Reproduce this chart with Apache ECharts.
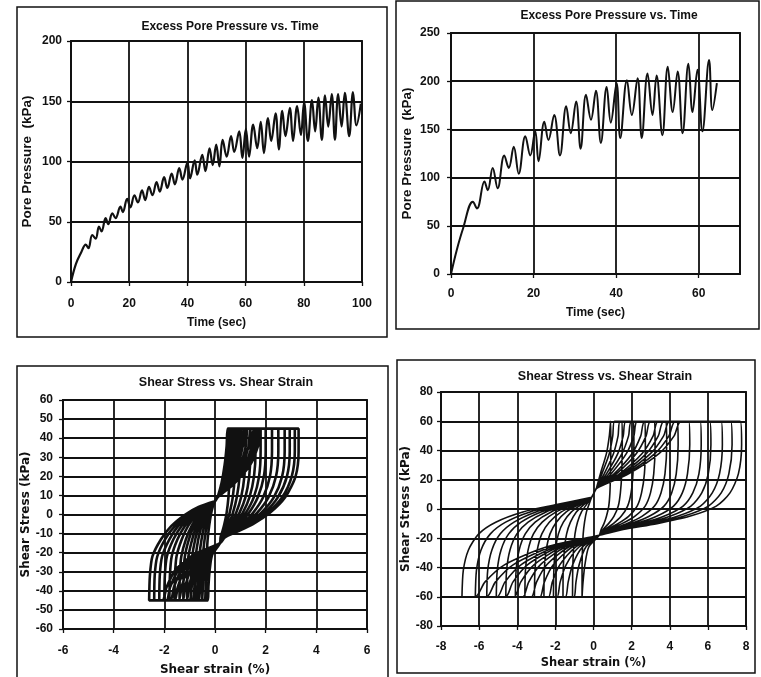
<!DOCTYPE html>
<html>
<head>
<meta charset="utf-8">
<script src="https://cdn.jsdelivr.net/npm/echarts@6/dist/echarts.min.js"></script>
<style>
  html, body { margin: 0; padding: 0; background: #fff; }
  #box { width: 761px; height: 677px; }
</style>
</head>
<body>
<div id="box"></div>
<script>
// top left: excess pore pressure vs time (100 s test)
const tlTime = [0, 1.7, 3.4, 5.1, 6.0, 7.3, 8.5, 9.6, 10.5, 11.9,
  12.8, 14.2, 15.3, 17.0, 17.8, 19.3, 20.4, 21.8, 23.0, 24.4,
  25.5, 26.8, 28.0, 29.4, 30.5, 32.0, 33.1, 34.6, 35.7, 37.2,
  38.3, 40.0, 40.9, 42.5, 43.4, 45.1, 46.2, 47.6, 48.7, 49.9,
  51.0, 52.1, 53.5, 55.0, 56.1, 57.8, 58.9, 60.1, 61.2, 62.6,
  64.0, 65.2, 66.3, 67.7, 68.8, 70.3, 71.4, 72.6, 73.7, 75.2,
  76.3, 77.7, 79.0, 80.1, 81.4, 82.8, 83.9, 85.0, 86.2, 87.3,
  88.4, 89.6, 90.7, 91.8, 93.0, 94.1, 95.6, 96.9, 98.1, 99.6]
const tlPore = [0, 15, 24, 31, 28, 39, 36, 46, 42, 53,
  48, 57, 53, 62.5, 58, 69, 62, 72, 66, 76,
  68, 79, 72, 83, 75, 87, 78, 90, 81, 94.5,
  85, 99, 86, 101, 89, 105.5, 92, 111, 97, 114,
  96, 118, 104, 121, 108, 125, 103, 127, 104, 130.6,
  111, 133, 107, 136, 117, 140, 110, 142, 121, 144.5,
  117, 146, 122, 149, 117, 151, 125, 153, 118, 155,
  129, 156, 118, 156, 129, 157, 121, 157.5, 130, 148]

// top right: excess pore pressure vs time (65 s test)
const trTime = [0, 1.4, 2.9, 5.3, 6.3, 8.1, 8.9, 10.1, 11.3, 12.9,
  14.0, 15.2, 16.4, 18.0, 19.2, 20.4, 21.2, 22.6, 23.6, 25.0,
  26.4, 27.9, 29.0, 30.3, 31.4, 32.7, 33.9, 35.1, 36.3, 37.7,
  38.7, 40.1, 41.0, 42.6, 43.8, 45.2, 46.2, 47.6, 48.8, 49.8,
  51.2, 52.5, 53.7, 54.9, 56.1, 57.5, 58.5, 59.7, 60.9, 62.5,
  63.3, 64.4]
const trPore = [0, 25, 47, 75, 68, 96, 87, 110, 89, 123,
  110, 132, 104, 143, 123, 148, 117, 158, 139, 165,
  123, 174, 146, 179, 130, 186, 160, 190, 136, 194,
  157, 198, 141, 201, 165, 203, 141, 208, 165, 206,
  144, 215, 168, 210, 146, 218, 168, 212, 148, 222,
  170, 198]

// bottom left: stress levels visited in every loading cycle, and strain per cycle
const blStress = [9, 16, 26, 36, 45, 45, 33, 20, 9, 1, -5, -9, -12, -15,
  -21, -29, -38, -45, -45, -32, -22, -13, -6, 0, 4, 7]
const blStrain = [
  [0.1, 0.25, 0.38, 0.46, 0.5, 0.6, 0.6, 0.58, 0.53, 0.46, 0.37, 0.29, 0.22, 0.2, -0.11, -0.21, -0.26, -0.28, -0.35, -0.35, -0.33, -0.29, -0.23, -0.16, -0.09, 0],
  [0.1, 0.25, 0.45, 0.55, 0.6, 0.8, 0.8, 0.78, 0.7, 0.58, 0.45, 0.33, 0.24, 0.2, -0.16, -0.3, -0.37, -0.4, -0.5, -0.5, -0.48, -0.41, -0.33, -0.23, -0.13, 0],
  [0.1, 0.28, 0.53, 0.64, 0.7, 1.0, 1.0, 0.97, 0.86, 0.71, 0.54, 0.38, 0.25, 0.2, -0.21, -0.39, -0.48, -0.52, -0.65, -0.64, -0.62, -0.53, -0.43, -0.29, -0.16, 0],
  [0.1, 0.32, 0.6, 0.74, 0.8, 1.2, 1.2, 1.16, 1.03, 0.84, 0.62, 0.42, 0.26, 0.2, -0.26, -0.48, -0.59, -0.64, -0.8, -0.79, -0.76, -0.66, -0.53, -0.36, -0.2, 0],
  [0.1, 0.36, 0.68, 0.83, 0.9, 1.4, 1.4, 1.35, 1.2, 0.97, 0.7, 0.46, 0.27, 0.2, -0.3, -0.57, -0.7, -0.76, -0.95, -0.94, -0.9, -0.78, -0.63, -0.43, -0.24, 0],
  [0.1, 0.4, 0.75, 0.92, 1.0, 1.6, 1.6, 1.54, 1.36, 1.1, 0.79, 0.51, 0.28, 0.2, -0.35, -0.66, -0.81, -0.88, -1.1, -1.09, -1.05, -0.9, -0.73, -0.5, -0.28, 0],
  [0.1, 0.44, 0.83, 1.01, 1.1, 1.8, 1.8, 1.74, 1.53, 1.22, 0.87, 0.55, 0.3, 0.2, -0.4, -0.75, -0.92, -1.0, -1.25, -1.24, -1.19, -1.03, -0.83, -0.56, -0.31, 0],
  [0.1, 0.48, 0.9, 1.1, 1.2, 2.0, 2.0, 1.93, 1.69, 1.35, 0.96, 0.6, 0.31, 0.2, -0.45, -0.84, -1.03, -1.12, -1.4, -1.39, -1.33, -1.15, -0.92, -0.63, -0.35, 0],
  [0.1, 0.53, 1.0, 1.22, 1.33, 2.25, 2.25, 2.17, 1.9, 1.51, 1.06, 0.65, 0.32, 0.2, -0.51, -0.96, -1.18, -1.28, -1.6, -1.58, -1.52, -1.31, -1.06, -0.72, -0.4, 0],
  [0.1, 0.58, 1.09, 1.33, 1.45, 2.5, 2.5, 2.41, 2.11, 1.67, 1.17, 0.71, 0.34, 0.2, -0.58, -1.08, -1.32, -1.44, -1.8, -1.78, -1.71, -1.48, -1.19, -0.81, -0.45, 0],
  [0.1, 0.63, 1.19, 1.45, 1.58, 2.75, 2.75, 2.65, 2.32, 1.83, 1.27, 0.76, 0.35, 0.2, -0.64, -1.2, -1.47, -1.6, -2.0, -1.98, -1.9, -1.64, -1.32, -0.9, -0.5, 0],
  [0.1, 0.67, 1.26, 1.55, 1.68, 2.95, 2.95, 2.84, 2.48, 1.96, 1.36, 0.81, 0.37, 0.2, -0.7, -1.32, -1.62, -1.76, -2.2, -2.18, -2.09, -1.8, -1.45, -0.99, -0.55, 0],
  [0.1, 0.71, 1.34, 1.64, 1.78, 3.15, 3.15, 3.03, 2.65, 2.09, 1.44, 0.85, 0.38, 0.2, -0.77, -1.44, -1.77, -1.92, -2.4, -2.38, -2.28, -1.97, -1.58, -1.08, -0.6, 0],
  [0.1, 0.74, 1.39, 1.7, 1.85, 3.3, 3.3, 3.18, 2.77, 2.18, 1.5, 0.88, 0.39, 0.2, -0.83, -1.56, -1.91, -2.08, -2.6, -2.57, -2.47, -2.13, -1.72, -1.17, -0.65, 0]
]

// bottom right: same idea, 13 cycles with a 60 kPa cap
const brStress = [14, 24, 38, 50, 60, 60, 44, 24, 11, 2, -5, -10, -14, -18,
  -26, -38, -50, -60, -60, -42, -28, -17, -9, -2, 3, 8]
const brStrain = [
  [0.15, 0.36, 0.68, 0.83, 0.9, 0.9, 0.91, 0.89, 0.86, 0.8, 0.68, 0.55, 0.4, 0.3, -0.25, -0.45, -0.55, -0.6, -0.6, -0.6, -0.58, -0.54, -0.47, -0.37, -0.24, -0.1],
  [0.15, 0.44, 0.83, 1.01, 1.1, 1.5, 1.51, 1.48, 1.41, 1.3, 1.07, 0.79, 0.5, 0.3, -0.4, -0.75, -0.92, -1.0, -1.1, -1.09, -1.05, -0.97, -0.84, -0.63, -0.37, -0.1],
  [0.15, 0.56, 1.05, 1.29, 1.4, 2.1, 2.12, 2.07, 1.97, 1.79, 1.45, 1.04, 0.61, 0.3, -0.58, -1.09, -1.33, -1.45, -1.6, -1.59, -1.53, -1.41, -1.21, -0.9, -0.51, -0.1],
  [0.15, 0.68, 1.28, 1.56, 1.7, 2.7, 2.72, 2.67, 2.52, 2.29, 1.84, 1.28, 0.71, 0.3, -0.76, -1.43, -1.75, -1.9, -2.1, -2.08, -2.0, -1.84, -1.58, -1.16, -0.64, -0.1],
  [0.15, 0.8, 1.5, 1.84, 2.0, 3.2, 3.23, 3.16, 2.99, 2.71, 2.16, 1.49, 0.79, 0.3, -0.94, -1.76, -2.16, -2.35, -2.6, -2.58, -2.48, -2.28, -1.95, -1.43, -0.78, -0.1],
  [0.15, 0.92, 1.73, 2.12, 2.3, 3.8, 3.84, 3.75, 3.54, 3.2, 2.54, 1.74, 0.9, 0.3, -1.12, -2.1, -2.58, -2.8, -3.1, -3.07, -2.95, -2.71, -2.32, -1.69, -0.91, -0.1],
  [0.15, 1.08, 2.03, 2.48, 2.7, 4.4, 4.44, 4.34, 4.1, 3.7, 2.92, 1.98, 1.0, 0.3, -1.3, -2.44, -2.99, -3.25, -3.6, -3.57, -3.43, -3.15, -2.69, -1.96, -1.05, -0.1],
  [0.15, 1.2, 2.25, 2.76, 3.0, 5.0, 5.05, 4.93, 4.66, 4.2, 3.31, 2.23, 1.1, 0.3, -1.48, -2.78, -3.4, -3.7, -4.1, -4.06, -3.9, -3.58, -3.06, -2.22, -1.18, -0.1],
  [0.15, 1.36, 2.55, 3.13, 3.4, 5.6, 5.65, 5.53, 5.21, 4.7, 3.69, 2.47, 1.2, 0.3, -1.66, -3.11, -3.82, -4.15, -4.6, -4.56, -4.38, -4.02, -3.43, -2.49, -1.32, -0.1],
  [0.15, 1.48, 2.78, 3.4, 3.7, 6.1, 6.16, 6.02, 5.68, 5.11, 4.01, 2.68, 1.29, 0.3, -1.84, -3.45, -4.23, -4.6, -5.1, -5.05, -4.85, -4.45, -3.8, -2.75, -1.45, -0.1],
  [0.15, 1.6, 3.0, 3.68, 4.0, 6.7, 6.76, 6.61, 6.23, 5.61, 4.4, 2.92, 1.39, 0.3, -2.02, -3.79, -4.65, -5.05, -5.6, -5.55, -5.33, -4.89, -4.17, -3.02, -1.59, -0.1],
  [0.15, 1.72, 3.23, 3.96, 4.3, 7.2, 7.27, 7.1, 6.7, 6.03, 4.72, 3.13, 1.47, 0.3, -2.24, -4.2, -5.15, -5.6, -6.2, -6.14, -5.9, -5.41, -4.61, -3.33, -1.75, -0.1],
  [0.15, 1.84, 3.45, 4.23, 4.6, 7.7, 7.77, 7.6, 7.16, 6.44, 5.04, 3.33, 1.56, 0.3, -2.48, -4.65, -5.7, -6.2, -6.9, -6.83, -6.56, -6.02, -5.13, -3.7, -1.94, -0.1]
]

const INK = '#111'
const FONT = 'Liberation Sans'
// the lower charts use a wider face for their axis names
const WIDE = 'DejaVu Sans'

function pairs(xs, ys) {
  return xs.map((x, i) => [x, ys[i]])
}

function loops(strains, stress) {
  const out = []
  strains.forEach(cycle => {
    cycle.forEach((x, i) => out.push([x, stress[i]]))
  })
  return out
}

function axis(o) {
  const label = { color: INK, fontFamily: FONT, fontWeight: 'bold', fontSize: 12, margin: o.margin }
  if (o.hideMax) label.showMaxLabel = false
  return {
    type: 'value',
    gridIndex: o.grid,
    min: o.min,
    max: o.max,
    interval: o.interval,
    name: o.name,
    nameLocation: 'middle',
    nameGap: o.nameGap,
    nameTextStyle: { color: INK, fontFamily: o.nameFont || FONT, fontWeight: 'bold', fontSize: o.nameSize },
    axisLine: { show: true, onZero: false, lineStyle: { color: INK, width: 1.8 } },
    axisTick: { show: true, length: 4, lineStyle: { color: INK, width: 1.3 } },
    axisLabel: label,
    splitLine: { show: true, lineStyle: { color: INK, width: 1.8 } }
  }
}

function curve(idx, data, width, smooth) {
  return {
    type: 'line',
    xAxisIndex: idx,
    yAxisIndex: idx,
    data: data,
    showSymbol: false,
    smooth: smooth,
    lineStyle: { color: INK, width: width },
    silent: true
  }
}

// panel frames (the scanned figure has a box round each chart)
const frames = [
  { x: 17, y: 7, width: 370, height: 330 },
  { x: 396, y: 1, width: 363, height: 328 },
  { x: 17, y: 366, width: 371, height: 320 },
  { x: 397, y: 360, width: 358, height: 313 }
]

const topTitle = { color: INK, fontFamily: FONT, fontWeight: 'bold', fontSize: 12 }
const lowTitle = { color: INK, fontFamily: FONT, fontWeight: 'bold', fontSize: 12.5 }

const chart = echarts.init(document.getElementById('box'))
chart.setOption({
  animation: false,
  backgroundColor: '#fff',
  title: [
    { text: 'Excess Pore Pressure vs. Time', left: 225, top: 16, textAlign: 'center', textStyle: topTitle },
    { text: 'Excess Pore Pressure vs. Time', left: 604, top: 5, textAlign: 'center', textStyle: topTitle },
    { text: 'Shear Stress vs. Shear Strain', left: 221, top: 371, textAlign: 'center', textStyle: lowTitle },
    { text: 'Shear Stress vs. Shear Strain', left: 600, top: 365, textAlign: 'center', textStyle: lowTitle }
  ],
  graphic: frames.map(f => ({
    type: 'rect',
    silent: true,
    shape: f,
    style: { fill: 'none', stroke: INK, lineWidth: 1.5 }
  })),
  grid: [
    { left: 71, top: 41, width: 291, height: 241, show: true, borderColor: INK, borderWidth: 1.8 },
    { left: 451, top: 33, width: 289, height: 241, show: true, borderColor: INK, borderWidth: 1.8 },
    { left: 63, top: 400, width: 304, height: 229, show: true, borderColor: INK, borderWidth: 1.8 },
    { left: 441, top: 392, width: 305, height: 234, show: true, borderColor: INK, borderWidth: 1.8 }
  ],
  xAxis: [
    axis({ grid: 0, min: 0, max: 100, interval: 20, name: 'Time (sec)', nameSize: 12, nameGap: 35, margin: 16 }),
    axis({ grid: 1, min: 0, max: 70, interval: 20, name: 'Time (sec)', nameSize: 12, nameGap: 33, margin: 14, hideMax: true }),
    axis({ grid: 2, min: -6, max: 6, interval: 2, name: 'Shear strain (%)', nameFont: WIDE, nameSize: 12, nameGap: 35, margin: 16 }),
    axis({ grid: 3, min: -8, max: 8, interval: 2, name: 'Shear strain (%)', nameFont: WIDE, nameSize: 11.5, nameGap: 31, margin: 15 })
  ],
  yAxis: [
    axis({ grid: 0, min: 0, max: 200, interval: 50, name: 'Pore Pressure  (kPa)', nameSize: 13.5, nameGap: 37, margin: 9 }),
    axis({ grid: 1, min: 0, max: 250, interval: 50, name: 'Pore Pressure  (kPa)', nameSize: 13.5, nameGap: 37, margin: 11 }),
    axis({ grid: 2, min: -60, max: 60, interval: 10, name: 'Shear Stress (kPa)', nameFont: WIDE, nameSize: 12, nameGap: 26, margin: 10 }),
    axis({ grid: 3, min: -80, max: 80, interval: 20, name: 'Shear Stress (kPa)', nameFont: WIDE, nameSize: 12, nameGap: 26, margin: 8 })
  ],
  series: [
    curve(0, pairs(tlTime, tlPore), 2.2, 0.4),
    curve(1, pairs(trTime, trPore), 2, 0.4),
    curve(2, loops(blStrain, blStress), 2.6, 0.25),
    curve(3, loops(brStrain, brStress), 1.6, 0.25)
  ]
})
</script>
</body>
</html>
